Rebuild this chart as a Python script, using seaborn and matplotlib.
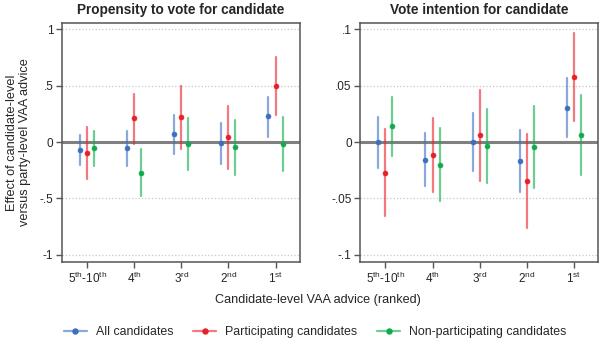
import matplotlib
matplotlib.use('Agg')
import matplotlib.pyplot as plt
from matplotlib.lines import Line2D
import seaborn as sns
import pandas as pd

# Kategorien (x-Achse) und Gruppen
ranks = ['5-10', '4', '3', '2', '1']
rank_labels = [r'5$^{th}$-10$^{th}$', r'4$^{th}$', r'3$^{rd}$', r'2$^{nd}$', r'1$^{st}$']
groups = ['All candidates', 'Participating candidates', 'Non-participating candidates']
colors = ['#3d6fc0', '#e8202a', '#10ab4b']

# Propensity to vote for candidate: estimate, lower, upper
ptv_all = [-0.074, -0.053, 0.070, -0.006, 0.230]
ptv_all_lo = [-0.200, -0.210, -0.107, -0.190, 0.047]
ptv_all_hi = [0.060, 0.100, 0.245, 0.170, 0.400]
ptv_part = [-0.100, 0.210, 0.220, 0.045, 0.500]
ptv_part_lo = [-0.330, -0.015, -0.060, -0.235, 0.237]
ptv_part_hi = [0.130, 0.430, 0.500, 0.320, 0.755]
ptv_non = [-0.056, -0.270, -0.018, -0.045, -0.018]
ptv_non_lo = [-0.210, -0.480, -0.245, -0.290, -0.260]
ptv_non_hi = [0.100, -0.065, 0.210, 0.200, 0.225]

# Vote intention for candidate
vi_all = [0.000, -0.0157, 0.000, -0.017, 0.0306]
vi_all_lo = [-0.023, -0.039, -0.026, -0.0445, 0.0045]
vi_all_hi = [0.0226, 0.0077, 0.0255, 0.011, 0.057]
vi_part = [-0.027, -0.0113, 0.006, -0.0344, 0.0576]
vi_part_lo = [-0.0656, -0.0445, -0.0344, -0.076, 0.0184]
vi_part_hi = [0.012, 0.0214, 0.046, 0.0074, 0.0967]
vi_non = [0.014, -0.020, -0.0036, -0.0042, 0.0062]
vi_non_lo = [-0.0125, -0.0525, -0.036, -0.041, -0.0294]
vi_non_hi = [0.040, 0.0128, 0.029, 0.032, 0.0415]


def make_frame(series):
    # drei Zeilen pro Punkt: unten, Schätzer, oben -> median = Schätzer
    rows = []
    for group, (est, lo, hi) in zip(groups, series):
        for r, e, l, h in zip(ranks, est, lo, hi):
            for v in (l, e, h):
                rows.append({'rank': r, 'group': group, 'value': v})
    return pd.DataFrame(rows)


ptv_df = make_frame([(ptv_all, ptv_all_lo, ptv_all_hi),
                     (ptv_part, ptv_part_lo, ptv_part_hi),
                     (ptv_non, ptv_non_lo, ptv_non_hi)])
vi_df = make_frame([(vi_all, vi_all_lo, vi_all_hi),
                    (vi_part, vi_part_lo, vi_part_hi),
                    (vi_non, vi_non_lo, vi_non_hi)])

sns.set_theme(style='ticks')
plt.rcParams['font.family'] = ['Liberation Sans', 'DejaVu Sans']
plt.rcParams['mathtext.fontset'] = 'custom'
plt.rcParams['mathtext.rm'] = 'Liberation Sans'
plt.rcParams['mathtext.it'] = 'Liberation Sans'
plt.rcParams['mathtext.default'] = 'regular'

fig, axes = plt.subplots(1, 2, figsize=(6, 3.44), dpi=100)
fig.subplots_adjust(left=0.103, right=0.997, top=0.934, bottom=0.238, wspace=0.252)

panels = [
    (axes[0], ptv_df, 'Propensity to vote for candidate', 1.0,
     ['-1', '-.5', '0', '.5', '1']),
    (axes[1], vi_df, 'Vote intention for candidate', 0.1,
     ['-.1', '-.05', '0', '.05', '.1']),
]

for ax, df, title, lim, ylabels in panels:
    ax.axhline(0, color='#808080', lw=2.2, zorder=1)
    sns.pointplot(data=df, x='rank', y='value', hue='group', order=ranks,
                  hue_order=groups, palette=colors, estimator='median',
                  errorbar=lambda v: (v.min(), v.max()), dodge=0.3,
                  linestyle='none', markers='o', markersize=3.6,
                  markeredgewidth=0.4,
                  err_kws={'linewidth': 1.6, 'alpha': 0.6},
                  legend=False, ax=ax)
    ax.set_xlim(-0.54, 4.52)
    ax.set_ylim(-1.065 * lim, 1.06 * lim)
    ax.set_yticks([-lim, -lim / 2, 0, lim / 2, lim])
    ax.set_yticklabels(ylabels)
    ax.set_xticks(range(len(ranks)))
    ax.set_xticklabels(rank_labels)
    ax.yaxis.grid(True, linestyle=':', color='#c8c8c8', lw=0.9)
    ax.set_axisbelow(True)
    for side in ['top', 'right', 'left', 'bottom']:
        ax.spines[side].set_visible(True)
        ax.spines[side].set_color('#555555')
        ax.spines[side].set_linewidth(1.1)
    ax.tick_params(axis='both', direction='out', length=4, width=1,
                   color='#555555', labelsize=8.5, pad=2)
    ax.set_xlabel('')
    ax.set_ylabel('')
    ax.set_title(title, fontsize=9.8, fontweight='bold', pad=6)

axes[0].set_ylabel('Effect of candidate-level\nversus party-level VAA advice',
                   fontsize=9.2, labelpad=6)

fig.text(0.53, 1 - 300 / 344, 'Candidate-level VAA advice (ranked)',
         ha='center', va='center', fontsize=9.1)

handles = [Line2D([0], [0], color=matplotlib.colors.to_rgba(c, 0.6), lw=1.6,
                  marker='o', markersize=3.6, markerfacecolor=c,
                  markeredgecolor=c) for c in colors]
fig.legend(handles, groups, loc='center', bbox_to_anchor=(0.525, 1 - 332 / 344),
           ncol=3, frameon=False, fontsize=8.9, handlelength=1.9,
           handletextpad=0.7, columnspacing=1.6)

fig.savefig('out.png', dpi=100)
